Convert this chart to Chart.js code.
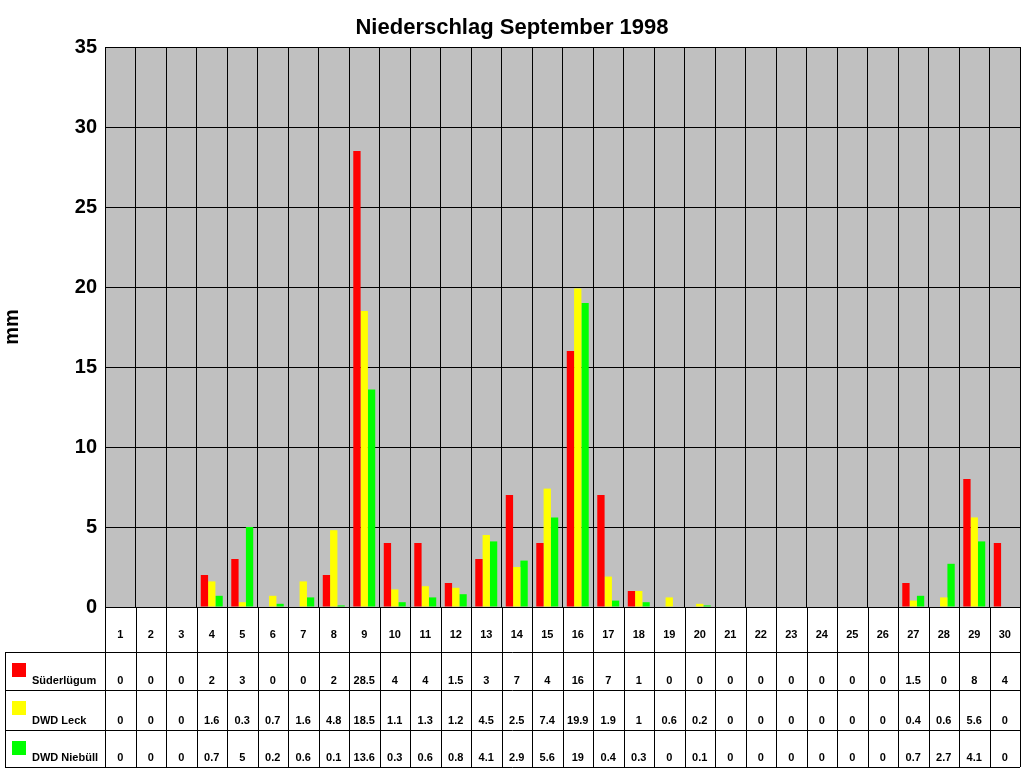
<!DOCTYPE html>
<html>
<head>
<meta charset="utf-8">
<script src="https://cdn.jsdelivr.net/npm/chart.js@4"></script>
<style>
  body { margin: 0; background: #fff; }
  canvas { display: block; }
</style>
</head>
<body>
<canvas id="rainChart" width="1024" height="768"></canvas>
<script>
// Days of September 1998
const days = ['1','2','3','4','5','6','7','8','9','10','11','12','13','14','15','16','17','18','19','20','21','22','23','24','25','26','27','28','29','30'];

// Precipitation in mm per station
const suederluegum = [0,0,0,2,3,0,0,2,28.5,4,4,1.5,3,7,4,16,7,1,0,0,0,0,0,0,0,0,1.5,0,8,4];
const dwdLeck = [0,0,0,1.6,0.3,0.7,1.6,4.8,18.5,1.1,1.3,1.2,4.5,2.5,7.4,19.9,1.9,1,0.6,0.2,0,0,0,0,0,0,0.4,0.6,5.6,0];
const dwdNiebuell = [0,0,0,0.7,5,0.2,0.6,0.1,13.6,0.3,0.6,0.8,4.1,2.9,5.6,19,0.4,0.3,0,0.1,0,0,0,0,0,0,0.7,2.7,4.1,0];

const seriesNames = ['Süderlügum', 'DWD Leck', 'DWD Niebüll'];
const seriesColors = ['#FF0000', '#FFFF00', '#00FF00'];
const seriesData = [suederluegum, dwdLeck, dwdNiebuell];

// Gray plot background, title and the data table underneath
const tablePlugin = {
    id: 'tablePlugin',
    beforeDraw(chart) {
        const { ctx, chartArea: a } = chart;
        ctx.save();
        ctx.fillStyle = '#C0C0C0';
        ctx.fillRect(a.left, a.top, a.right - a.left, a.bottom - a.top);
        ctx.restore();
    },
    afterDraw(chart) {
        const { ctx, chartArea: a, scales } = chart;
        const x = scales.x;
        const step = (a.right - a.left) / days.length;
        const rows = [a.bottom, 652, 690, 730, 767];
        ctx.save();

        // title
        ctx.fillStyle = '#000';
        ctx.font = 'bold 22px Arial, "Liberation Sans", sans-serif';
        ctx.textAlign = 'center';
        ctx.textBaseline = 'middle';
        ctx.fillText('Niederschlag September 1998', 512, 28);

        // table lines
        ctx.strokeStyle = '#000';
        ctx.lineWidth = 1;
        ctx.beginPath();
        for (let i = 0; i <= days.length; i++) {
            const px = Math.round(a.left + i * step) + 0.5;
            ctx.moveTo(px, rows[0]);
            ctx.lineTo(px, rows[4]);
        }
        ctx.moveTo(a.left, rows[0] + 0.5); ctx.lineTo(a.right, rows[0] + 0.5);
        for (let r = 1; r < rows.length; r++) {
            ctx.moveTo(5, rows[r] + 0.5);
            ctx.lineTo(a.right, rows[r] + 0.5);
        }
        ctx.moveTo(5.5, rows[1]); ctx.lineTo(5.5, rows[4]);
        ctx.stroke();

        // day numbers
        ctx.font = 'bold 11px Arial, "Liberation Sans", sans-serif';
        ctx.textAlign = 'center';
        days.forEach((d, i) => ctx.fillText(d, x.getPixelForValue(i), 635));

        // station rows
        seriesData.forEach((vals, s) => {
            const yText = rows[s + 2] - 9;
            ctx.fillStyle = seriesColors[s];
            ctx.fillRect(12, rows[s + 1] + 11, 14, 14);
            ctx.fillStyle = '#000';
            ctx.textAlign = 'left';
            ctx.fillText(seriesNames[s], 32, yText);
            ctx.textAlign = 'center';
            vals.forEach((v, i) => ctx.fillText(String(v), x.getPixelForValue(i), yText));
        });
        ctx.restore();
    }
};

new Chart(document.getElementById('rainChart').getContext('2d'), {
    type: 'bar',
    data: {
        labels: days,
        datasets: seriesData.map((vals, s) => ({
            label: seriesNames[s],
            data: vals,
            backgroundColor: seriesColors[s],
            borderWidth: 0,
            categoryPercentage: 0.72,
            barPercentage: 1.0
        }))
    },
    options: {
        responsive: false,
        animation: false,
        layout: { padding: { top: 47, bottom: 161, left: 0, right: 4 } },
        plugins: {
            legend: { display: false },
            title: { display: false },
            tooltip: { enabled: false }
        },
        scales: {
            x: {
                offset: true,
                ticks: { display: false },
                grid: { offset: true, color: '#000', drawTicks: false },
                border: { color: '#000' }
            },
            y: {
                min: 0,
                max: 35,
                ticks: {
                    stepSize: 5,
                    color: '#000',
                    font: { family: 'Arial, "Liberation Sans", sans-serif', size: 20, weight: 'bold' },
                    padding: 8
                },
                grid: { color: '#000', drawTicks: false },
                border: { color: '#000' },
                title: {
                    display: true,
                    text: 'mm',
                    color: '#000',
                    font: { family: 'Arial, "Liberation Sans", sans-serif', size: 20, weight: 'bold' },
                    padding: { top: 0, bottom: 20 }
                },
                afterFit(scale) { scale.width = 105; }
            }
        }
    },
    plugins: [tablePlugin]
});
</script>
</body>
</html>
